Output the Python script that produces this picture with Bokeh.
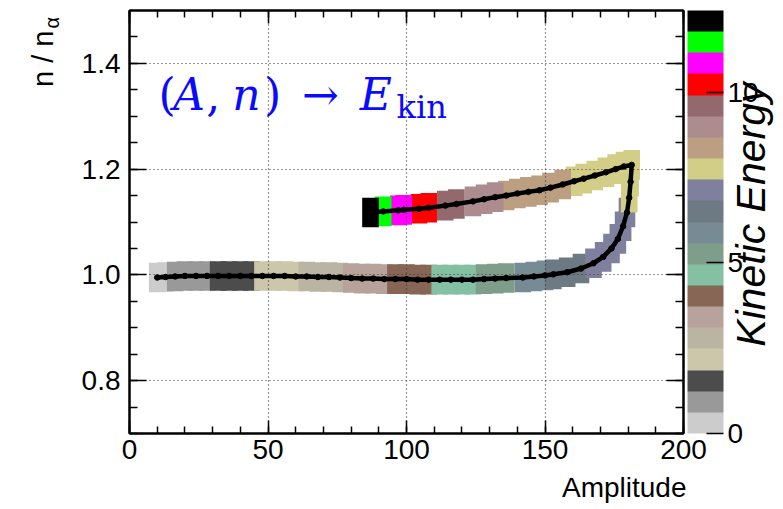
import numpy as np
from bokeh.plotting import figure
from bokeh.models import (LinearAxis, Range1d, ColorBar, LinearColorMapper, FixedTicker,
                          SingleIntervalTicker, Label, ColumnDataSource, PrintfTickFormatter)
from bokeh.embed import file_html
from bokeh.resources import INLINE

# Trajectory in the (amplitude, n/n_alpha) plane, kinetic energy at each step
amplitude = [10, 13, 16.5, 20, 24, 28, 32, 36, 40, 44, 48, 52, 56, 60, 64, 68, 72, 76,
             80, 84, 88, 92, 96, 100, 104, 108, 112, 116, 120, 124, 128, 132, 136, 142,
             146, 150,
             153, 158, 163, 167.5, 171, 174, 176.3, 178.2, 179.6, 180.4, 180.9, 181.3,
             178.5, 175.5, 172, 168, 164, 160.5, 156.4, 152, 148, 144, 140, 136, 132,
             128, 124, 118, 114, 108, 104.5, 99, 97, 91.6, 87]
n_ratio = [0.995, 0.996, 0.997, 0.998, 0.998, 0.998, 0.998, 0.998, 0.998, 0.998, 0.998,
           0.998, 0.998, 0.997, 0.997, 0.996, 0.996, 0.995, 0.994, 0.993, 0.993, 0.992,
           0.992, 0.992, 0.991, 0.991, 0.991, 0.991, 0.991, 0.991, 0.992, 0.993, 0.994,
           0.995, 0.997, 0.999,
           1.001, 1.005, 1.012, 1.022, 1.034, 1.050, 1.068, 1.092, 1.118, 1.146, 1.176,
           1.208,
           1.205, 1.200, 1.194, 1.188, 1.182, 1.177, 1.171, 1.165, 1.160, 1.157, 1.154,
           1.150, 1.147, 1.143, 1.139, 1.134, 1.131, 1.127, 1.125, 1.123, 1.122, 1.120,
           1.118]
kinetic_energy = [0.45, 0.58, 0.72, 0.85, 1.01, 1.17, 1.32, 1.48, 1.64, 1.80, 1.95, 2.10,
                  2.26, 2.42, 2.56, 2.72, 2.88, 3.04, 3.18, 3.34, 3.50, 3.66, 3.80, 3.96,
                  4.12, 4.28, 4.42, 4.58, 4.74, 4.90, 5.04, 5.20, 5.38, 5.64, 5.84, 6.04,
                  6.25, 6.42, 6.62, 6.86, 7.00, 7.12, 7.22, 7.32, 7.40, 7.50, 7.58, 7.66,
                  7.72, 7.78, 7.84, 7.90, 7.96, 8.02, 8.12, 8.24, 8.34, 8.44, 8.54, 8.64,
                  8.74, 8.96, 9.20, 9.40, 9.70, 10.00, 10.35, 10.70, 10.95, 11.40, 12.00]

# Discrete energy palette, low to high
energy_palette = ["#cccccc", "#999999", "#4c4c4c", "#ccc6aa", "#bab5a3", "#b7a39b",
                  "#876656", "#84c1a3", "#7f9e8a", "#778b94", "#6d7a84", "#7f7f9e",
                  "#d3ce87", "#bc9e80", "#ad8c8f", "#93696e", "#ff0000", "#ff00ff",
                  "#00ff00", "#000000"]
energy_range = (0.0, 12.4)
energy_ticks = [0, 5, 10]

FONT = "Liberation Sans"
FRAME = dict(left=127, right=683, top=10, bottom=433)
X_RANGE = (0, 200)
Y_RANGE = (0.7, 1.5)


def at(cx, cy):
    """Canvas pixel -> data coordinates (for placing text around the frame)."""
    x = X_RANGE[0] + (cx - FRAME["left"]) * (X_RANGE[1] - X_RANGE[0]) / (FRAME["right"] - FRAME["left"])
    y = Y_RANGE[1] - (cy - FRAME["top"]) * (Y_RANGE[1] - Y_RANGE[0]) / (FRAME["bottom"] - FRAME["top"])
    return x, y


source = ColumnDataSource(dict(amplitude=amplitude, n_ratio=n_ratio,
                               kinetic_energy=kinetic_energy))
mapper = LinearColorMapper(palette=energy_palette, low=energy_range[0], high=energy_range[1])

p = figure(width=783, height=509, x_range=Range1d(*X_RANGE), y_range=Range1d(*Y_RANGE),
           output_backend="svg", toolbar_location=None,
           min_border_left=FRAME["left"], min_border_right=783 - FRAME["right"],
           min_border_top=FRAME["top"], min_border_bottom=509 - FRAME["bottom"])
p.background_fill_color = "white"
p.border_fill_color = "white"
p.outline_line_color = "black"
p.outline_line_width = 2

# energy band: one box per step, coloured by kinetic energy
p.rect(x="amplitude", y="n_ratio", width=6, height=0.056, source=source,
       fill_color={"field": "kinetic_energy", "transform": mapper},
       line_color=None, level="image")
# trajectory
p.line(x="amplitude", y="n_ratio", source=source, line_color="black", line_width=4.5)
p.scatter(x="amplitude", y="n_ratio", source=source, size=5.5, color="black")

xticker = SingleIntervalTicker(interval=50, num_minor_ticks=5)
yticker = SingleIntervalTicker(interval=0.2, num_minor_ticks=4)
p.xaxis.ticker = xticker
p.yaxis.ticker = yticker
p.yaxis.formatter = PrintfTickFormatter(format="%.1f")

for ax in (p.xaxis[0], p.yaxis[0]):
    ax.axis_line_width = 2
    ax.major_tick_out = 0
    ax.minor_tick_out = 0
    ax.major_tick_line_width = 1.5
    ax.minor_tick_line_width = 1.5
    ax.major_label_text_font = FONT
    ax.major_label_text_font_size = "28px"
    ax.major_label_text_color = "black"
p.xaxis.major_tick_in = 13
p.xaxis.minor_tick_in = 7
p.xaxis.major_label_standoff = 6
p.yaxis.major_tick_in = 17
p.yaxis.minor_tick_in = 8
p.yaxis.major_label_standoff = 9

# mirrored tick marks on the top and right edges of the frame (no labels)
mirror = dict(major_label_text_font_size="0px", major_label_text_color=None,
              major_label_standoff=0, major_tick_out=0, minor_tick_out=0,
              axis_line_width=2, major_tick_line_width=1.5, minor_tick_line_width=1.5)
top_axis = LinearAxis(ticker=xticker, major_tick_in=13, minor_tick_in=7, **mirror)
right_axis = LinearAxis(ticker=yticker, major_tick_in=17, minor_tick_in=8, **mirror)
p.add_layout(top_axis, "above")
p.add_layout(right_axis, "right")

for g in (p.xgrid[0], p.ygrid[0]):
    g.grid_line_color = "#333333"
    g.grid_line_dash = "1 3"
    g.grid_line_width = 1.2

color_bar = ColorBar(color_mapper=mapper, ticker=FixedTicker(ticks=energy_ticks),
                     width=36, height=FRAME["bottom"] - FRAME["top"],
                     location=(4, 0), margin=0, padding=0,
                     bar_line_color=None, border_line_color=None,
                     background_fill_color=None,
                     major_tick_in=17, major_tick_out=0, major_tick_line_color="black",
                     major_tick_line_width=1.5, minor_tick_line_color=None,
                     label_standoff=4, major_label_text_font=FONT,
                     major_label_text_font_size="28px", major_label_text_color="black")
p.add_layout(color_bar, "right")


def side_label(panel, cx, cy, text, **kw):
    """Text centred on canvas pixel (cx, cy), kept in a side panel (not clipped)."""
    x, y = at(cx, cy)
    p.add_layout(Label(x=x, y=y, text=text, text_baseline="middle",
                       text_color="black", **kw), panel)


# axis titles
side_label("below", 686, 487, "Amplitude", text_align="right", text_font=FONT,
           text_font_size="28px")
side_label("left", 751, 82, "Kinetic Energy", angle=np.pi / 2, text_align="right",
           text_font=FONT, text_font_style="italic", text_font_size="41px")
side_label("left", 40, 30, "n / n", angle=np.pi / 2, text_align="right",
           text_font=FONT, text_font_size="29px")
side_label("right", 49, 28, "\u03b1", angle=np.pi / 2, text_align="left",
           text_font=FONT, text_font_size="20px")

# mapping annotation inside the frame
SERIF = "DejaVu Serif"
BLUE = "#0a0aff"
pieces = [("(", 156, 94, "normal", "44px"), ("A", 171, 94, "italic", "44px"),
          (",", 204, 94, "normal", "44px"), ("n", 230, 94, "italic", "44px"),
          (")", 262, 94, "normal", "44px"), ("\u2192", 300, 94, "normal", "44px"),
          ("E", 358, 94, "italic", "44px"), ("kin", 395, 106, "normal", "32px")]
for txt, cx, cy, style, size in pieces:
    x, y = at(cx, cy)
    p.add_layout(Label(x=x, y=y, text=txt, text_align="left", text_baseline="alphabetic",
                       text_font=SERIF, text_font_style=style, text_font_size=size,
                       text_color=BLUE))

open("out.html", "w").write(file_html(p, INLINE))
